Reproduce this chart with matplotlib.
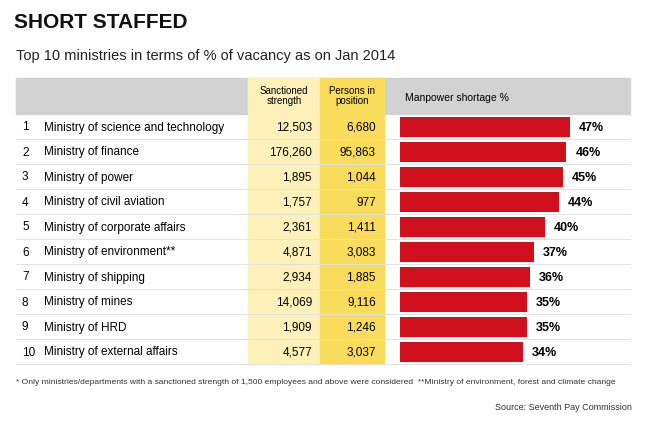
import matplotlib
matplotlib.use("Agg")
import matplotlib.pyplot as plt
from matplotlib.patches import Rectangle

plt.rcParams['font.family'] = ['Liberation Sans', 'DejaVu Sans']

ministries = ["Ministry of science and technology", "Ministry of finance", "Ministry of power",
              "Ministry of civil aviation", "Ministry of corporate affairs", "Ministry of environment**",
              "Ministry of shipping", "Ministry of mines", "Ministry of HRD", "Ministry of external affairs"]
sanctioned = ["12,503", "176,260", "1,895", "1,757", "2,361", "4,871", "2,934", "14,069", "1,909", "4,577"]
in_position = ["6,680", "95,863", "1,044", "977", "1,411", "3,083", "1,885", "9,116", "1,246", "3,037"]
shortage = [47, 46, 45, 44, 40, 37, 36, 35, 35, 34]

W, H = 664, 422
fig = plt.figure(figsize=(W / 100, H / 100), dpi=100)
ax = fig.add_axes([0, 0, 1, 1])
ax.set_xlim(0, W)
ax.set_ylim(H, 0)
ax.axis("off")

# header and column backgrounds
ax.add_patch(Rectangle((16, 78), 614, 36, color="#d2d2d2", zorder=0))
ax.add_patch(Rectangle((248, 78), 72, 286, color="#fdf0b8", zorder=1))
ax.add_patch(Rectangle((320, 78), 64, 286, color="#f9dc5c", zorder=1))

ax.text(14, 22, "SHORT STAFFED", fontsize=15, fontweight="bold", va="center", color="#111")
ax.text(16, 56, "Top 10 ministries in terms of % of vacancy as on Jan 2014", fontsize=10.5,
        va="center", color="#222")
ax.text(284, 96, "Sanctioned\nstrength", fontsize=7, ha="center", va="center", linespacing=1.1, zorder=3)
ax.text(352, 96, "Persons in\nposition", fontsize=7, ha="center", va="center", linespacing=1.1, zorder=3)
ax.text(405, 98, "Manpower shortage %", fontsize=7.5, va="center", zorder=3)

row0, step = 126, 25
for i, name in enumerate(ministries):
    y = row0 + i * step
    ax.text(22, y, str(i + 1), fontsize=8.5, va="center_baseline", zorder=3)
    ax.text(44, y, name, fontsize=8.5, va="center_baseline", zorder=3)
    ax.text(312, y, sanctioned[i], fontsize=8.5, va="center_baseline", ha="right", zorder=3)
    ax.text(376, y, in_position[i], fontsize=8.5, va="center_baseline", ha="right", zorder=3)
    ax.plot([16, 630], [y + 12.5, y + 12.5], color="#e2e2e2", lw=0.7, zorder=2)

ax.text(16, 382, "* Only ministries/departments with a sanctioned strength of 1,500 employees and above "
        "were considered  **Ministry of environment, forest and climate change",
        fontsize=6.1, va="center", color="#333")
ax.text(632, 408, "Source: Seventh Pay Commission", fontsize=6.5, ha="right", va="center", color="#333")

# bars
scale = 170 / 47
bx = fig.add_axes([400 / W, 1 - 364 / H, 50 * scale / W, 250 / H])
bx.set_xlim(0, 50)
bx.set_ylim(9.5, -0.5)
bx.axis("off")
bx.barh(range(len(shortage)), shortage, height=0.8, color="#d0101c")
for i, v in enumerate(shortage):
    bx.text(v + 2.5, i, f"{v}%", fontsize=9, fontweight="bold", va="center_baseline", clip_on=False)

fig.savefig("out.png", dpi=100)
